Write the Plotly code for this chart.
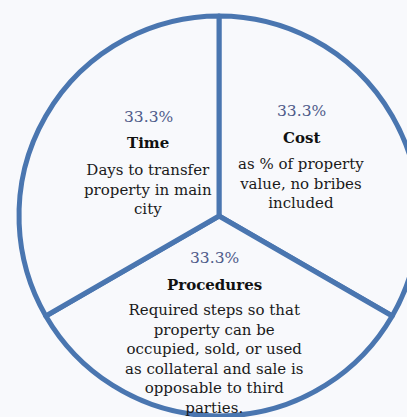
import plotly.graph_objects as go

# Data
labels = ["Cost", "Procedures", "Time"]
values = [1, 1, 1]
descriptions = {
    "Cost": "as % of property<br>value, no bribes<br>included",
    "Procedures": "Required steps so that<br>property can be<br>occupied, sold, or used<br>as collateral and sale is<br>opposable to third<br>parties.",
    "Time": "Days to transfer<br>property in main<br>city",
}

W, H = 440, 417
BG = "#f8f9fc"
LINE = "#4a76b0"
PCT = "#4f5b8a"
FONT = "DejaVu Serif, serif"

cx, cy, r = 219, 216, 200

fig = go.Figure(go.Pie(
    labels=labels,
    values=values,
    sort=False,
    direction="clockwise",
    rotation=0,
    textinfo="none",
    hoverinfo="label+percent",
    marker=dict(colors=[BG] * 3, line=dict(color=LINE, width=5)),
    domain=dict(x=[(cx - r) / W, (cx + r) / W], y=[1 - (cy + r) / H, 1 - (cy - r) / H]),
    showlegend=False,
))

total = sum(values)
# label block positions (px): x, pct y, title y, desc center y
blocks = {
    "Time": (148, 117, 143, 189),
    "Cost": (301, 111, 138, 184),
    "Procedures": (214, 258, 285, 359),
}
ann = []
for lab, v in zip(labels, values):
    x, yp, yt, yd = blocks[lab]
    pct = f"{100 * v / total:.1f}%"
    common = dict(xref="paper", yref="paper", showarrow=False, xanchor="center", yanchor="middle")
    ann.append(dict(x=x / W, y=1 - yp / H, text=pct,
                    font=dict(family=FONT, size=15.5, color=PCT), **common))
    ann.append(dict(x=x / W, y=1 - yt / H, text=f"<b>{lab}</b>",
                    font=dict(family=FONT, size=15, color="#111111"), **common))
    ann.append(dict(x=x / W, y=1 - yd / H, text=descriptions[lab],
                    font=dict(family=FONT, size=15, color="#1a1a1a"), **common))

fig.update_layout(
    width=W, height=H,
    margin=dict(l=0, r=0, t=0, b=0),
    paper_bgcolor=BG, plot_bgcolor=BG,
    annotations=ann,
)

fig.write_html(
    "out.html",
    config={"displayModeBar": False},
    post_script="document.body.style.margin='0';document.body.style.overflow='hidden';document.documentElement.style.overflow='hidden';",
)
